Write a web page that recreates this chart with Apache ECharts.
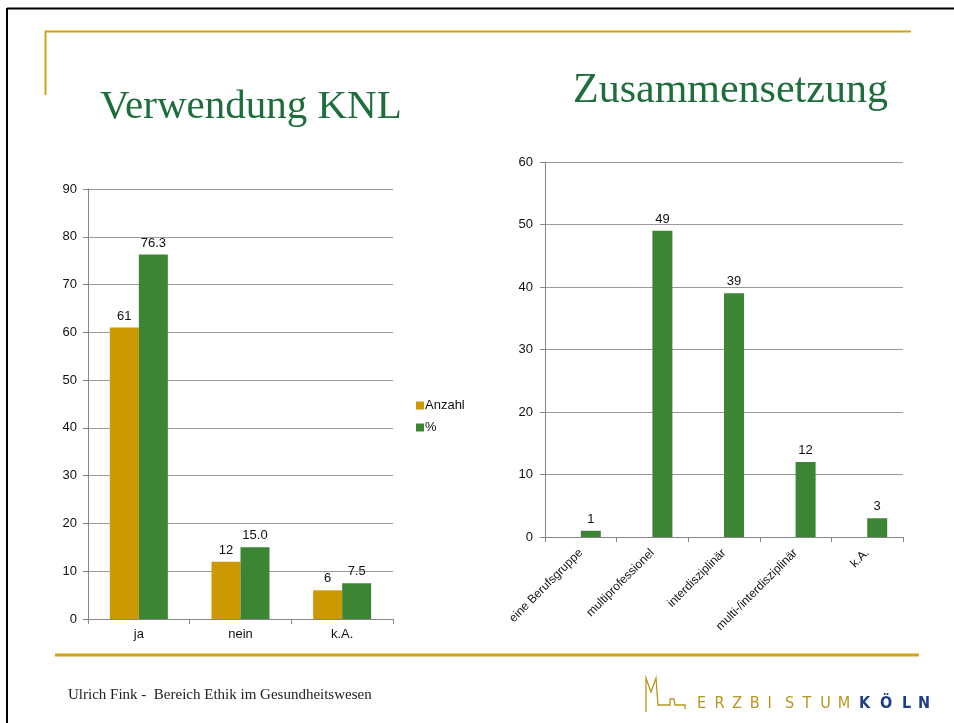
<!DOCTYPE html>
<html>
<head>
<meta charset="utf-8">
<script src="https://cdn.jsdelivr.net/npm/echarts@6/dist/echarts.min.js"></script>
<style>
  html, body { margin: 0; padding: 0; background: #fff; }
  #main { width: 954px; height: 723px; }
</style>
</head>
<body>
<div id="main"></div>
<script>
// Verwendung KNL
var knlCategories = ['ja', 'nein', 'k.A.']
var knlAnzahl = [61, 12, 6]
var knlProzent = [76.3, 15.0, 7.5]

// Zusammensetzung
var zusCategories = ['eine Berufsgruppe', 'multiprofessionel', 'interdisziplinär', 'multi-/interdisziplinär', 'k.A.']
var zusValues = [1, 49, 39, 12, 3]

var gold = '#CC9900'
var green = '#3C8534'
var titleGreen = '#1E6E3C'
var axisGrey = '#868686'
var gridGrey = '#9a9a9a'

var chart = echarts.init(document.getElementById('main'))

function yAxisCfg(max, gridIndex, margin) {
  return {
    type: 'value',
    gridIndex: gridIndex,
    min: 0,
    max: max,
    interval: 10,
    axisLine: { show: true, lineStyle: { color: axisGrey } },
    axisTick: { show: true, length: 5, lineStyle: { color: axisGrey } },
    axisLabel: { color: '#111', fontSize: 13, fontFamily: 'Liberation Sans', margin: margin },
    splitLine: { show: true, lineStyle: { color: gridGrey } }
  }
}

/** 标志字母 */
function logoLetters() {
  var items = []
  var erz = 'ERZBISTUM'
  for (var i = 0; i < erz.length; i++) {
    items.push({
      type: 'text', x: 697 + i * 17.6, y: 712,
      style: { text: erz[i], fill: '#B8951E', font: '16px "DejaVu Sans Condensed", "Liberation Sans"', verticalAlign: 'bottom' }
    })
  }
  var koln = 'KÖLN'
  var kx = [859, 880, 902, 918]
  for (var j = 0; j < koln.length; j++) {
    items.push({
      type: 'text', x: kx[j], y: 712,
      style: { text: koln[j], fill: '#1F3C86', font: 'bold 16px "DejaVu Sans Condensed", "Liberation Sans"', verticalAlign: 'bottom' }
    })
  }
  return items
}

var labelStyle = { show: true, position: 'top', color: '#111', fontSize: 13, fontFamily: 'Liberation Sans', distance: 5 }

var option = {
  animation: false,
  backgroundColor: '#fff',
  grid: [
    { left: 88, right: 561, top: 189, bottom: 104 },
    { left: 545, right: 51, top: 162, bottom: 186 }
  ],
  legend: {
    data: ['Anzahl', '%'],
    orient: 'vertical',
    left: 411,
    top: 394,
    icon: 'rect',
    itemWidth: 8,
    itemHeight: 8,
    itemGap: 9,
    textStyle: { color: '#111', fontSize: 13, fontFamily: 'Liberation Sans', padding: [0, 0, 0, -4] }
  },
  xAxis: [
    {
      type: 'category',
      gridIndex: 0,
      data: knlCategories,
      axisLine: { lineStyle: { color: axisGrey } },
      axisTick: { show: true, length: 5, lineStyle: { color: axisGrey } },
      axisLabel: { color: '#111', fontSize: 13, fontFamily: 'Liberation Sans', margin: 9 }
    },
    {
      type: 'category',
      gridIndex: 1,
      data: zusCategories,
      axisLine: { lineStyle: { color: axisGrey } },
      axisTick: { show: true, length: 5, lineStyle: { color: axisGrey } },
      axisLabel: { color: '#111', fontSize: 12, fontFamily: 'Liberation Sans', rotate: 45, margin: 14, interval: 0 }
    }
  ],
  yAxis: [yAxisCfg(90, 0, 11), yAxisCfg(60, 1, 12)],
  series: [
    {
      name: 'Anzahl',
      type: 'bar',
      xAxisIndex: 0,
      yAxisIndex: 0,
      barWidth: 29,
      barGap: '0%',
      itemStyle: { color: gold },
      label: labelStyle,
      data: knlAnzahl
    },
    {
      name: '%',
      type: 'bar',
      xAxisIndex: 0,
      yAxisIndex: 0,
      barWidth: 29,
      barGap: '0%',
      itemStyle: { color: green },
      label: Object.assign({}, labelStyle, {
        formatter: function (p) { return p.value.toFixed(1) }
      }),
      data: knlProzent
    },
    {
      // leere Reihe: verschiebt die Säulen wie im Original nach rechts
      name: 'leer',
      type: 'bar',
      xAxisIndex: 1,
      yAxisIndex: 1,
      barWidth: 20,
      barGap: '0%',
      data: zusValues.map(function () { return null })
    },
    {
      name: 'Zusammensetzung',
      type: 'bar',
      xAxisIndex: 1,
      yAxisIndex: 1,
      barWidth: 20,
      barGap: '0%',
      itemStyle: { color: green },
      label: labelStyle,
      data: zusValues
    }
  ],
  graphic: [
    // Rahmen
    { type: 'line', shape: { x1: 7, y1: 8.5, x2: 954, y2: 8.5 }, style: { stroke: '#000', lineWidth: 2 } },
    { type: 'line', shape: { x1: 7, y1: 8, x2: 7, y2: 723 }, style: { stroke: '#000', lineWidth: 2 } },
    // goldene Linien
    { type: 'line', shape: { x1: 45, y1: 31.5, x2: 911, y2: 31.5 }, style: { stroke: '#D4A20F', lineWidth: 2 } },
    { type: 'line', shape: { x1: 45.5, y1: 31, x2: 45.5, y2: 95 }, style: { stroke: '#D4A20F', lineWidth: 2 } },
    { type: 'line', shape: { x1: 55, y1: 655, x2: 919, y2: 655 }, style: { stroke: '#D4A20F', lineWidth: 3 } },
    // Titel
    {
      type: 'text', x: 100, y: 128,
      style: { text: 'Verwendung KNL', fill: titleGreen, font: '41px "Liberation Serif"', verticalAlign: 'bottom' }
    },
    {
      type: 'text', x: 573, y: 112,
      style: { text: 'Zusammensetzung', fill: titleGreen, font: '42px "Liberation Serif"', verticalAlign: 'bottom' }
    },
    // Fußzeile
    {
      type: 'text', x: 68, y: 695,
      style: { text: 'Ulrich Fink -  Bereich Ethik im Gesundheitswesen', fill: '#222', font: '15px "Liberation Serif"', verticalAlign: 'middle' }
    },
    {
      type: 'polyline',
      shape: { points: [[646, 712], [646, 678], [651, 692], [656, 678], [658, 705], [670, 705], [670, 699], [674, 699], [675, 705], [685, 705], [685, 709]] },
      style: { stroke: '#B8951E', lineWidth: 1.3, fill: null }
    }
  ].concat(logoLetters())
}

chart.setOption(option, true)
</script>
</body>
</html>
